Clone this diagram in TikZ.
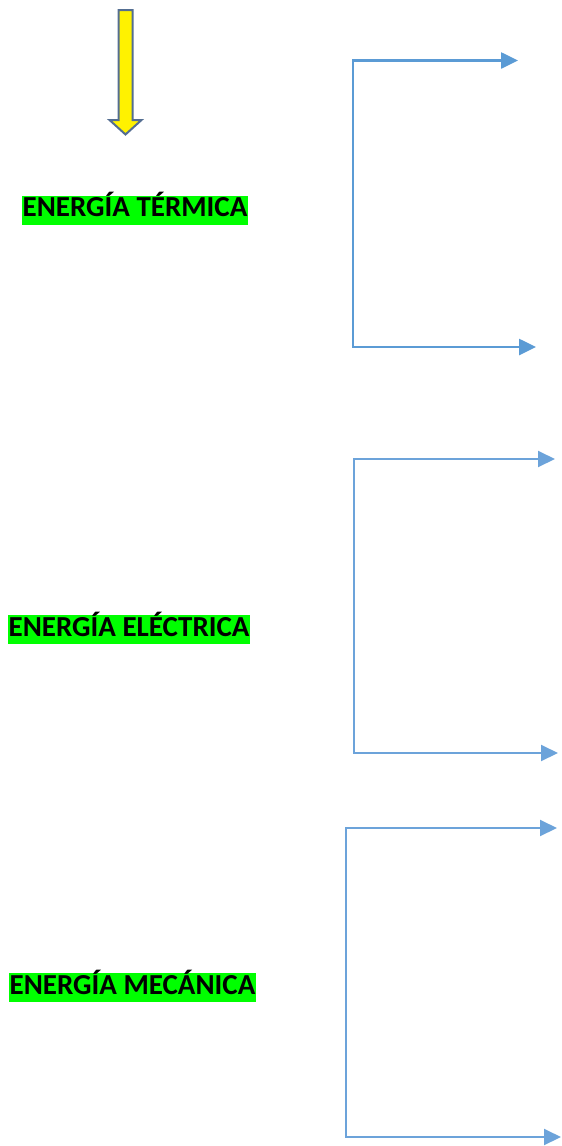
\documentclass[tikz,border=0pt]{standalone}
\usepackage{fontspec}
\setmainfont{Carlito}
\usetikzlibrary{arrows.meta,positioning}
\definecolor{flowblue}{RGB}{91,155,213}
\definecolor{paleblue}{RGB}{108,163,218}
\definecolor{arrowedge}{RGB}{84,110,146}
\definecolor{marker}{RGB}{0,255,0}

\begin{document}
\begin{tikzpicture}[x=1pt, y=-1pt,
    enbox/.style={fill=marker, inner xsep=0.5pt, inner ysep=0pt, text height=21pt, text depth=8pt,
        font=\bfseries\fontsize{29}{34}\selectfont, anchor=base west},
    branch/.style={draw=flowblue, line width=2.6pt, line join=miter,
        {Triangle[length=17pt,width=16pt]}-{Triangle[length=17pt,width=16pt]}},
    thinbranch/.style={branch, draw=paleblue, line width=2pt}]
    \useasboundingbox (0,0) rectangle (562,1146);

    % Yellow arrow at the top
    \draw[fill=yellow, draw=arrowedge, line width=2pt, line join=miter]
        (118.5,10) -- (132.5,10) -- (132.5,120) -- (141.5,120) -- (125.5,134.5)
        -- (109.5,120) -- (118.5,120) -- cycle;

    % Energy labels
    \node[enbox] (termica) at (22,216.5) {ENERGÍA TÉRMICA};
    \node[enbox] (electrica) at (8,636) {ENERGÍA ELÉCTRICA};
    \node[enbox] (mecanica) at (9,994) {ENERGÍA MECÁNICA};

    % Bracket ends
    \coordinate (c1) at (353,60.5);
    \coordinate (e1) at (518,60.5);
    \coordinate (e2) at (536,347);
    \coordinate (c2) at (354,459);
    \coordinate (e3) at (555,459);
    \coordinate (e4) at (558,753);
    \coordinate (c3) at (346,828);
    \coordinate (e5) at (557,828);
    \coordinate (e6) at (561,1137);

    % Branching arrows
    \draw[branch] (e1) -- (c1) |- (e2);
    \draw[thinbranch] (e3) -- (c2) |- (e4);
    \draw[thinbranch] (e5) -- (c3) |- (e6);
\end{tikzpicture}
\end{document}
